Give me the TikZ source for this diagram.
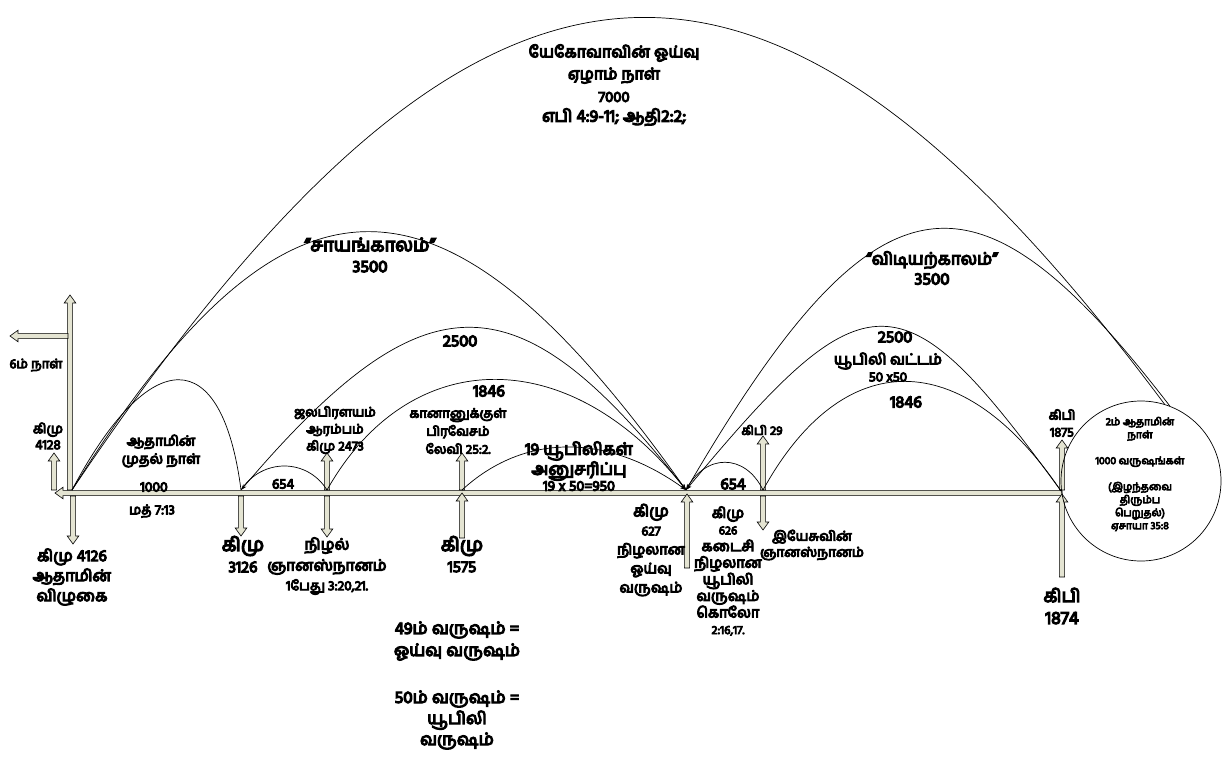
\documentclass[tikz,border=0pt]{standalone}
\usepackage{fontspec}
\newfontfamily\tam[Script=Tamil,FakeBold=7]{Hind Madurai}
\usetikzlibrary{arrows.meta}
\definecolor{bafill}{RGB}{228,228,210}
\newcommand\vba[3]{%
  \pgfmathsetmacro\bad{(#3>#2)?1:-1}%
  \pgfmathsetmacro\bah{#3-\bad*8}%
  \filldraw[ba] (#1-2.6,#2) -- (#1-2.6,\bah) -- (#1-5.8,\bah) -- (#1,#3) -- (#1+5.8,\bah) -- (#1+2.6,\bah) -- (#1+2.6,#2) -- cycle;}
\newcommand\hba[3]{%
  \pgfmathsetmacro\bad{(#3>#2)?1:-1}%
  \pgfmathsetmacro\bah{#3-\bad*8}%
  \filldraw[ba] (#2,#1-2.6) -- (\bah,#1-2.6) -- (\bah,#1-5.8) -- (#3,#1) -- (\bah,#1+5.8) -- (\bah,#1+2.6) -- (#2,#1+2.6) -- cycle;}
\newcommand\fs[2]{\fontsize{#1}{#2}\selectfont}
\begin{document}
\begin{tikzpicture}[x=1pt,y=-1pt,
  arc/.style={line width=0.7pt, draw=black},
  tipend/.style={-{Stealth[length=6pt,width=4pt]}},
  tipstart/.style={{Stealth[length=6pt,width=4pt]}-},
  tipboth/.style={{Stealth[length=6pt,width=4pt]}-{Stealth[length=6pt,width=4pt]}},
  ba/.style={draw=black, line width=0.6pt, fill=bafill},
  t/.style={align=center, inner sep=0pt},
]
\useasboundingbox[fill=white] (0,0) rectangle (1225,759);

% block arrows and timeline
\hba{493}{1062}{55}
\vba{70}{490}{295}
\hba{336}{68}{10}
\vba{54}{490}{453}
\vba{73}{496}{544}
\vba{241}{496}{536}
\vba{327}{496}{537}
\vba{327}{490}{453}
\vba{462}{538}{493}
\vba{462}{490}{453}
\vba{687}{568}{494}
\vba{763}{490}{436}
\vba{763}{496}{530}
\vba{1062}{490}{440}
\vba{1062}{577}{494}

% timeline points
\coordinate (pA) at (72,490);
\coordinate (pB) at (241,490);
\coordinate (pC) at (327,490);
\coordinate (pD) at (462,490);
\coordinate (pE) at (686,490);
\coordinate (pF) at (763,490);
\coordinate (pG) at (1061,491);

\node[circle, draw, line width=0.7pt, minimum size=160pt, inner sep=0pt] (circ) at (1141,481) {};

% arcs
\draw[arc] (pA) .. controls (150,343) and (222,343) .. (pB);
\draw[arc,tipboth] (pB) .. controls (425,274) and (517,274) .. (pE);
\draw[arc] (pB) .. controls (262,458) and (307,458) .. (pC);
\draw[arc,tipend] (pC) .. controls (410,343) and (570,343) .. (pE);
\draw[arc,tipend] (pD) .. controls (524,433) and (607,433) .. (pE);
\draw[arc,tipend] (pA) .. controls (287,146) and (442,146) .. (pE);
\draw[arc] (pA) .. controls (485,-125) and (770,-125) .. (circ.73);
\draw[arc] (pE) .. controls (705,453) and (745,453) .. (pF);
\draw[arc] (pF) .. controls (843,345) and (962,345) .. (pG);
\draw[arc,tipstart] (pE) .. controls (867,272) and (902,272) .. (pG);
\draw[arc,tipstart] (pE) .. controls (880,157) and (978,157) .. (circ.69);

% labels
\node[t,font=\tam\fs{16}{22}] (l7a) at (614,64) {யேகோவாவின் ஓய்வு\\ஏழாம் நாள்};
\node[t,font=\tam\fs{15}{16}] (l7b) at (614,97) {7000};
\node[t,font=\tam\fs{17}{18}] (l7c) at (614,117) {எபி 4:9-11; ஆதி2:2;};

\node[t,font=\tam\fs{18.5}{21}] (lsay) at (370,255) {“சாயங்காலம்”\\{\fs{17}{21}3500}};
\node[t,font=\tam\fs{16.5}{18}] (l2500a) at (460,341) {2500};
\node[t,font=\tam\fs{16.5}{18}] (l1846a) at (489,391) {1846};
\node[t,font=\tam\fs{13}{18}] (lcan) at (458,431) {கானானுக்குள்\\பிரவேசம்\\லேவி 25:2.};
\node[t,font=\tam\fs{17}{20}] (l19) at (579,461) {19 யூபிலிகள்\\அனுசரிப்பு};
\node[t,font=\tam\fs{14.5}{16}] (l950) at (579,486) {19 x 50=950};
\node[t,font=\tam\fs{13}{17}] (lflood) at (335,430) {ஜலபிரளயம்\\ஆரம்பம்\\கிமு 2473};
\node[t,font=\tam\fs{14}{18}] (l654a) at (283,484) {654};
\node[t,font=\tam\fs{14}{18}] (ladam) at (161,451) {ஆதாமின்\\முதல் நாள்};
\node[t,font=\tam\fs{14}{16}] (l1000) at (154,487) {1000};
\node[t,font=\tam\fs{13.5}{16}] (lmat) at (152,511) {மத் 7:13};
\node[t,font=\tam\fs{13.5}{16}] (l4128) at (48,436) {கிமு\\4128};
\node[t,font=\tam\fs{13}{16}] (l6) at (36,365) {6ம் நாள்};
\node[t,font=\tam\fs{16}{20}] (l4126) at (72,577) {கிமு 4126\\ஆதாமின்\\விழுகை};
\node[t,font=\tam\fs{19}{20}] (l3126a) at (243,546) {கிமு};
\node[t,font=\tam\fs{16}{20}] (l3126b) at (243,567) {3126};
\node[t,font=\tam\fs{15.5}{21}] (lnizhal) at (327,556) {நிழல்\\ஞானஸ்நானம்};
\node[t,font=\tam\fs{13.5}{16}] (lpet) at (327,587) {1பேது 3:20,21.};
\node[t,font=\tam\fs{19}{20}] (l1575a) at (462,546) {கிமு};
\node[t,font=\tam\fs{16}{20}] (l1575b) at (462,567) {1575};
\node[t,font=\tam\fs{14.5}{19}] (l627) at (651,550) {{\fs{16}{19}கிமு}\\{\fs{13}{19}627}\\நிழலான\\ஓய்வு\\வருஷம்};
\node[t,font=\tam\fs{14.5}{16.6}] (l626) at (728,571) {கிமு\\{\fs{12}{16.6}626}\\கடைசி\\நிழலான\\யூபிலி\\வருஷம்\\கொலோ\\{\fs{12}{16.6}2:16,17.}};
\node[t,font=\tam\fs{12.5}{16}] (l29) at (762,430) {கிபி 29};
\node[t,font=\tam\fs{16}{18}] (l654b) at (733,484) {654};
\node[t,font=\tam\fs{13.5}{16}] (ljesus) at (812,545) {இயேசுவின்\\ஞானஸ்நானம்};
\node[t,font=\tam\fs{17}{20}] (lvid) at (932,268) {“விடியற்காலம்”\\3500};
\node[t,font=\tam\fs{16.5}{18}] (l2500b) at (895,337) {2500};
\node[t,font=\tam\fs{15}{18}] (ljub) at (888,361) {யூபிலி வட்டம்};
\node[t,font=\tam\fs{13.5}{14}] (l5050) at (888,377) {50 x50};
\node[t,font=\tam\fs{16.5}{18}] (l1846b) at (906,402) {1846};
\node[t,font=\tam\fs{13}{17}] (l1875) at (1062,423) {கிபி\\1875};
\node[t,font=\tam\fs{10.5}{13}] (lcirc) at (1140,474) {2ம் ஆதாமின்\\நாள்\\\mbox{}\\1000 வருஷங்கள்\\\mbox{}\\(இழந்தவை\\திரும்ப\\பெறுதல்)\\ஏசாயா 35:8};
\node[t,font=\tam\fs{18}{22}] (l1874) at (1062,606) {கிபி\\1874};
\node[t,font=\tam\fs{17}{22}] (l49) at (457,641) {49ம் வருஷம் =\\ஓய்வு வருஷம்};
\node[t,font=\tam\fs{17}{21}] (l50) at (457,720) {50ம் வருஷம் =\\யூபிலி\\வருஷம்};
\end{tikzpicture}
\end{document}
